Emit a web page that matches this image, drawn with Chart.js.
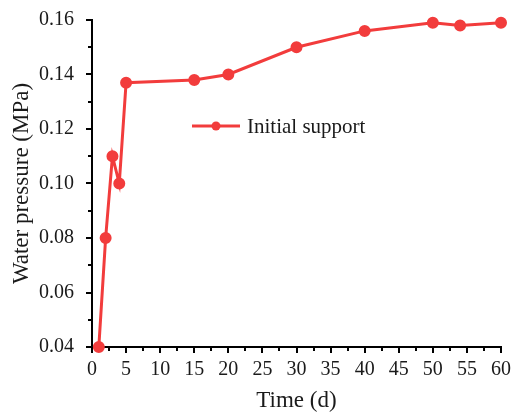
<!DOCTYPE html>
<html>
<head>
<meta charset="utf-8">
<script src="https://cdn.jsdelivr.net/npm/chart.js@4"></script>
<style>
  html,body{margin:0;padding:0;background:#fff;}
  #wrap{width:513px;height:412px;}
</style>
</head>
<body>
<div id="wrap"><canvas id="chart"></canvas></div>
<script>
// data
const days=[1,2,3,4,5,15,20,30,40,50,54,60];
const pressure=[0.04,0.08,0.11,0.10,0.137,0.138,0.14,0.15,0.156,0.159,0.158,0.159];
const xTicks=[0,5,10,15,20,25,30,35,40,45,50,55,60];
const yTicks=[0.04,0.06,0.08,0.10,0.12,0.14,0.16];
const seriesName='Initial support';
const RED='#f23c3c';
const INK='#1a1a1a';
const FONT='"Liberation Serif", "Times New Roman", serif';

// outward ticks: long at majors, short halfway between
const axisTicks={
  id:'axisTicks',
  afterDraw(chart){
    const c=chart.ctx, x=chart.scales.x, y=chart.scales.y;
    c.save();
    c.strokeStyle='#000'; c.lineWidth=2;
    xTicks.forEach((v,i)=>{
      let px=Math.round(x.getPixelForValue(v));
      c.beginPath(); c.moveTo(px,x.top); c.lineTo(px,x.top+6); c.stroke();
      if(i<xTicks.length-1){
        px=Math.round(x.getPixelForValue((v+xTicks[i+1])/2));
        c.beginPath(); c.moveTo(px,x.top); c.lineTo(px,x.top+4); c.stroke();
      }
    });
    yTicks.forEach((v,i)=>{
      let py=Math.round(y.getPixelForValue(v));
      c.beginPath(); c.moveTo(y.right,py); c.lineTo(y.right-6,py); c.stroke();
      if(i<yTicks.length-1){
        py=Math.round(y.getPixelForValue((v+yTicks[i+1])/2));
        c.beginPath(); c.moveTo(y.right,py); c.lineTo(y.right-4,py); c.stroke();
      }
    });
    c.restore();
  }
};

// legend inside the plot: line + dot + label
const innerLegend={
  id:'innerLegend',
  afterDraw(chart){
    const c=chart.ctx;
    const x0=192, x1=240, yy=126;
    c.save();
    c.strokeStyle=RED; c.lineWidth=3;
    c.beginPath(); c.moveTo(x0,yy); c.lineTo(x1,yy); c.stroke();
    c.fillStyle=RED;
    c.beginPath(); c.arc((x0+x1)/2,yy,4.5,0,Math.PI*2); c.fill();
    c.fillStyle=INK; c.font='21px '+FONT; c.textBaseline='middle';
    c.fillText(seriesName,x1+7,yy+1);
    c.restore();
  }
};

new Chart(document.getElementById('chart'),{
  type:'line',
  data:{datasets:[{
    label:seriesName,
    data:days.map((d,i)=>({x:d,y:pressure[i]})),
    borderColor:RED, backgroundColor:RED,
    borderWidth:3, pointRadius:4.5, pointHoverRadius:4.5,
    tension:0, clip:false
  }]},
  options:{
    responsive:true, maintainAspectRatio:false, animation:false,
    layout:{padding:{top:20,right:12,left:0,bottom:0}},
    plugins:{legend:{display:false},tooltip:{enabled:false}},
    scales:{
      x:{
        type:'linear', min:0, max:60,
        border:{color:'#000',width:2},
        grid:{display:false},
        afterBuildTicks:s=>{s.ticks=xTicks.map(v=>({value:v}));},
        ticks:{color:INK, padding:3, font:{family:FONT,size:20}, maxRotation:0, autoSkip:false},
        title:{display:true, text:'Time (d)', color:INK, font:{family:FONT,size:23,lineHeight:1.0}, padding:0},
        afterFit:s=>{s.height=65; s.paddingLeft=0; s.paddingRight=0;}
      },
      y:{
        type:'linear', min:0.04, max:0.16,
        border:{color:'#000',width:2},
        grid:{display:false},
        afterBuildTicks:s=>{s.ticks=yTicks.map(v=>({value:v}));},
        ticks:{color:INK, padding:10, font:{family:FONT,size:20},
          callback:v=>v.toFixed(2)},
        title:{display:true, text:'Water pressure (MPa)', color:INK, font:{family:FONT,size:23,lineHeight:1.2}, padding:{top:8,bottom:0}},
        afterFit:s=>{s.width=92; s.paddingTop=0; s.paddingBottom=0;}
      }
    }
  },
  plugins:[axisTicks,innerLegend]
});
</script>
</body>
</html>
